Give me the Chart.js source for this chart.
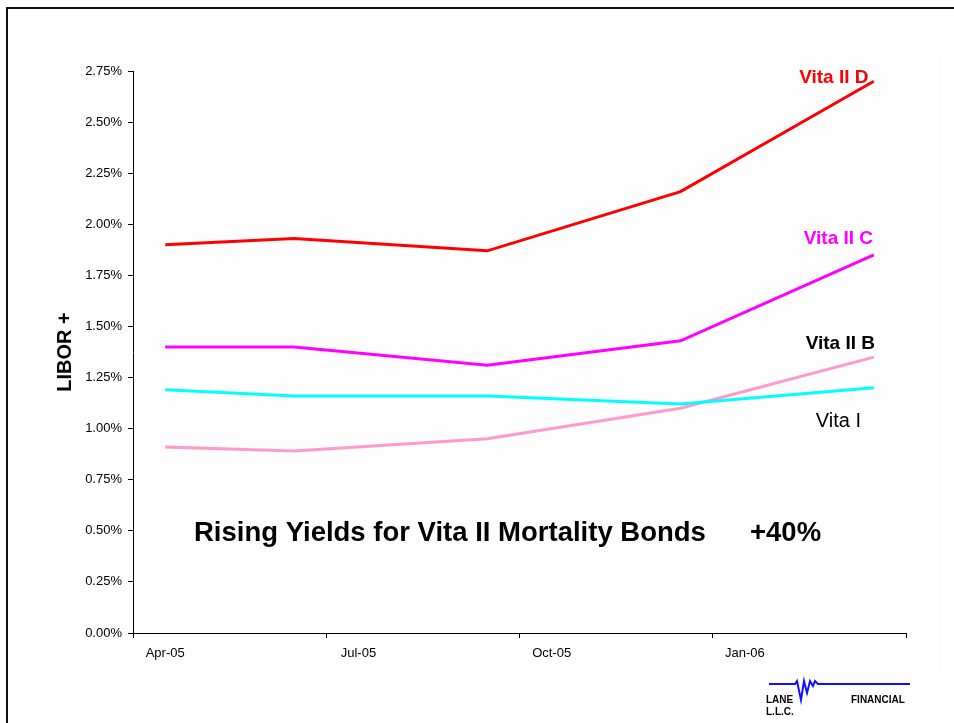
<!DOCTYPE html>
<html>
<head>
<meta charset="utf-8">
<script src="https://cdn.jsdelivr.net/npm/chart.js@4"></script>
<style>
  html, body { margin: 0; padding: 0; background: #fff; }
  #wrap { position: relative; width: 954px; height: 723px; }
</style>
</head>
<body>
<div id="wrap"><canvas id="chart" width="954" height="723"></canvas></div>
<script>
// observation dates, as month offsets from Apr-05
const obsDates = ['Apr-05', 'Jun-05', 'Sep-05', 'Dec-05', 'Mar-06'];
const obsMonth = [0, 2, 5, 8, 11];

// spread over LIBOR, in %
const vitaIID = [1.90, 1.93, 1.87, 2.16, 2.70];
const vitaIIC = [1.40, 1.40, 1.31, 1.43, 1.85];
const vitaIIB = [1.19, 1.16, 1.16, 1.12, 1.20];
const vitaI   = [0.91, 0.89, 0.95, 1.10, 1.35];

// x axis labels (quarter starts)
const tickLabels = ['Apr-05', 'Jul-05', 'Oct-05', 'Jan-06'];
const tickMonth = [0, 3, 6, 9];

const FONT = "'Liberation Sans', Arial, sans-serif";

const pts = vals => vals.map((v, i) => ({ x: obsMonth[i] + 0.5, y: v }));

// series names drawn next to the lines (x in months, y in %)
const seriesLabels = [
  { text: 'Vita II D', x: 10.88, y: 2.715, color: '#ff0000', bold: true },
  { text: 'Vita II C', x: 10.95, y: 1.93, color: '#ff00ff', bold: true },
  { text: 'Vita II B', x: 10.98, y: 1.415, color: '#000000', bold: true },
  { text: 'Vita I', x: 10.95, y: 1.035, color: '#000000', bold: false }
];

const frame = {
  id: 'frame',
  beforeDraw(chart) {
    const c = chart.ctx;
    c.save();
    c.fillStyle = '#fdfdfd';
    c.fillRect(30, 55, 912, 624);
    c.fillStyle = '#111';
    c.fillRect(6, 7, 948, 2);
    c.fillRect(6, 7, 2, 716);
    c.restore();
  }
};

const notes = {
  id: 'notes',
  afterDraw(chart) {
    const c = chart.ctx;
    const xs = chart.scales.x, ys = chart.scales.y;
    c.save();
    c.textAlign = 'center';
    c.textBaseline = 'middle';
    seriesLabels.forEach(l => {
      c.font = (l.bold ? 'bold 19px ' : '20px ') + FONT;
      c.fillStyle = l.color;
      c.fillText(l.text, xs.getPixelForValue(l.x), ys.getPixelForValue(l.y));
    });

    c.fillStyle = '#000';
    c.font = 'bold 27.5px ' + FONT;
    c.textAlign = 'left';
    c.fillText('Rising Yields for Vita II Mortality Bonds', 194, 533);
    c.fillText('+40%', 750, 533);

    // Lane Financial logo
    c.strokeStyle = '#1010ff';
    c.lineWidth = 2;
    c.beginPath();
    c.moveTo(769, 684); c.lineTo(795, 684); c.lineTo(797, 681);
    c.lineTo(801, 700); c.lineTo(804, 681); c.lineTo(807, 693);
    c.lineTo(810, 681); c.lineTo(813, 686); c.lineTo(815, 681);
    c.lineTo(818, 684); c.lineTo(910, 684);
    c.stroke();
    c.fillStyle = '#000';
    c.font = 'bold 10px ' + FONT;
    c.textBaseline = 'alphabetic';
    c.fillText('LANE', 766, 703);
    c.fillText('L.L.C.', 766, 715);
    c.fillText('FINANCIAL', 851, 703);
    c.restore();
  }
};

const line = (label, vals, color) => ({
  label, data: pts(vals), borderColor: color, backgroundColor: color,
  borderWidth: 3, pointRadius: 0, tension: 0, fill: false
});

new Chart(document.getElementById('chart'), {
  type: 'line',
  data: {
    datasets: [
      line('Vita II D', vitaIID, '#ff0000'),
      line('Vita II C', vitaIIC, '#ff00ff'),
      line('Vita II B', vitaIIB, '#00ffff'),
      line('Vita I', vitaI, '#ff99cc')
    ]
  },
  options: {
    responsive: false,
    animation: false,
    layout: { padding: { left: 0, top: 71, right: 48, bottom: 0 } },
    plugins: { legend: { display: false }, tooltip: { enabled: false } },
    scales: {
      x: {
        type: 'linear', min: 0, max: 12,
        afterBuildTicks: s => {
          const t = [0, 3, 6, 9, 12].map(v => ({ value: v }));
          tickMonth.forEach(m => t.push({ value: m + 0.5 }));
          s.ticks = t.sort((a, b) => a.value - b.value);
        },
        afterFit: s => { s.height = 90; },
        ticks: {
          autoSkip: false, maxRotation: 0, padding: 8, color: '#000',
          font: { family: FONT, size: 13 },
          callback: v => {
            const i = tickMonth.indexOf(v - 0.5);
            return i >= 0 ? tickLabels[i] : '';
          }
        },
        grid: {
          drawOnChartArea: false, tickLength: 5,
          tickColor: ctx => (ctx.tick && ctx.tick.value % 3 === 0) ? '#000' : 'rgba(0,0,0,0)'
        },
        border: { color: '#000', width: 1 }
      },
      y: {
        min: 0, max: 2.75,
        afterFit: s => { s.width = 133; },
        ticks: {
          stepSize: 0.25, padding: 6, color: '#000',
          font: { family: FONT, size: 13 },
          callback: v => v.toFixed(2) + '%'
        },
        grid: { drawOnChartArea: false, tickLength: 5, tickColor: '#000' },
        border: { color: '#000', width: 1 },
        title: {
          display: true, text: 'LIBOR +', color: '#000',
          font: { family: FONT, size: 20, weight: 'bold' },
          padding: { top: 53, bottom: 0 }
        }
      }
    }
  },
  plugins: [frame, notes]
});
</script>
</body>
</html>
